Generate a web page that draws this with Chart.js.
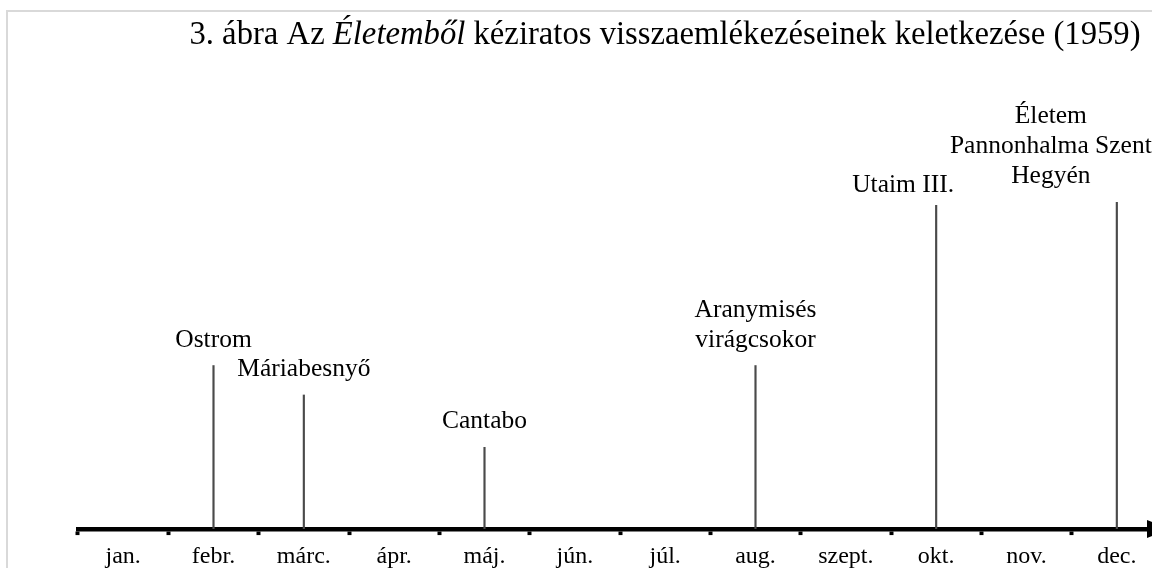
<!DOCTYPE html>
<html>
<head>
<meta charset="utf-8">
<script src="https://cdn.jsdelivr.net/npm/chart.js@4"></script>
<style>
  html, body { margin: 0; padding: 0; background: #fff; overflow: hidden; width: 1152px; height: 568px; }
</style>
</head>
<body>
<canvas id="chart" width="1172" height="579"></canvas>
<script>
const months = ['jan.', 'febr.', 'márc.', 'ápr.', 'máj.', 'jún.', 'júl.', 'aug.', 'szept.', 'okt.', 'nov.', 'dec.'];
const heights = [null, 50, 41, null, 25, null, null, 50, null, 99, null, 100];
const works = [null, ['Ostrom'], ['Máriabesnyő'], null, ['Cantabo'], null, null,
  ['Aranymisés', 'virágcsokor'], null, ['Utaim III.'], null, ['Életem', 'Pannonhalma Szent', 'Hegyén']];
const titleParts = [
  { text: '3. ábra Az ', italic: false },
  { text: 'Életemből', italic: true },
  { text: ' kéziratos visszaemlékezéseinek keletkezése (1959)', italic: false }
];

const serif = '"Liberation Serif", "Times New Roman", serif';

// label nudges (x, y) so the texts sit like in the original figure
const labelShift = [null, [0, 0], [0, 0], null, [0, 0], null, null, [0, 0], null, [-33, 6], null, [-66, 0]];

const decorPlugin = {
  id: 'decor',
  beforeDraw(chart) {
    const ctx = chart.ctx;
    ctx.save();
    ctx.strokeStyle = '#d9d9d9';
    ctx.lineWidth = 2;
    ctx.strokeRect(7, 11, 2000, 2000);
    ctx.restore();
  },
  afterDraw(chart) {
    const ctx = chart.ctx;
    const area = chart.chartArea;
    ctx.save();

    // title, with the book title in italics
    let total = 0;
    titleParts.forEach(p => {
      ctx.font = (p.italic ? 'italic ' : '') + '32.7px ' + serif;
      p.w = ctx.measureText(p.text).width;
      total += p.w;
    });
    let x = 665 - total / 2;
    ctx.fillStyle = '#000';
    ctx.textBaseline = 'alphabetic';
    ctx.textAlign = 'left';
    titleParts.forEach(p => {
      ctx.font = (p.italic ? 'italic ' : '') + '32.7px ' + serif;
      ctx.fillText(p.text, x, 44);
      x += p.w;
    });

    // event labels above the lines
    ctx.font = '25.5px ' + serif;
    ctx.textAlign = 'center';
    const meta = chart.getDatasetMeta(0);
    meta.data.forEach((bar, i) => {
      if (!works[i]) return;
      const [dx, dy] = labelShift[i];
      const lines = works[i];
      lines.forEach((t, k) => {
        const y = bar.y - 19 + dy - (lines.length - 1 - k) * 30;
        ctx.fillText(t, bar.x + dx, y);
      });
    });

    // arrow head at the end of the time axis (tip runs off the page)
    const y0 = area.bottom;
    ctx.beginPath();
    ctx.moveTo(area.right + 8, y0);
    ctx.lineTo(area.right - 15, y0 - 9);
    ctx.lineTo(area.right - 15, y0 + 9);
    ctx.closePath();
    ctx.fill();
    ctx.restore();
  }
};

new Chart(document.getElementById('chart'), {
  type: 'bar',
  data: {
    labels: months,
    datasets: [{
      data: heights,
      backgroundColor: '#4a4a4a',
      barThickness: 1.5,
      borderWidth: 0
    }]
  },
  options: {
    responsive: false,
    animation: false,
    devicePixelRatio: 1,
    layout: { padding: { left: 78, right: 10, top: 202, bottom: 0 } },
    plugins: {
      legend: { display: false },
      tooltip: { enabled: false }
    },
    scales: {
      x: {
        offset: true,
        grid: {
          offset: true,
          drawOnChartArea: false,
          tickLength: 6,
          tickWidth: 4,
          color: '#000'
        },
        border: { display: true, width: 4.5, color: '#000' },
        ticks: {
          color: '#000',
          padding: 18,
          maxRotation: 0,
          autoSkip: false,
          font: { family: serif, size: 24, lineHeight: 0.33 }
        }
      },
      y: {
        display: false,
        min: 0,
        max: 100
      }
    }
  },
  plugins: [decorPlugin]
});
</script>
</body>
</html>
